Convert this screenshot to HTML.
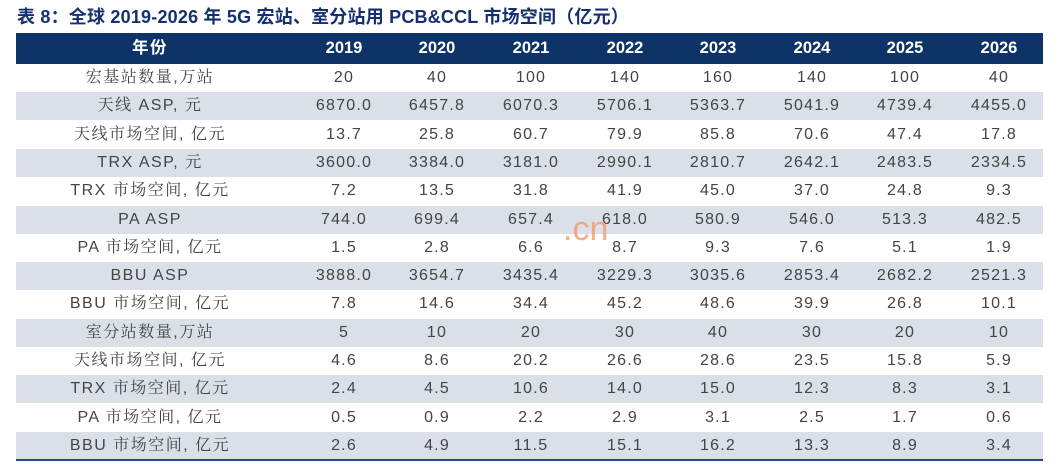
<!DOCTYPE html>
<html><head><meta charset="utf-8"><style>
body{margin:0;width:1060px;height:464px;background:#fff;position:relative;overflow:hidden;font-family:"Liberation Sans","Noto Sans CJK SC",sans-serif;}
.title{position:absolute;left:17px;top:3px;font-size:18px;font-weight:bold;color:#14306e;white-space:nowrap;letter-spacing:0.2px}
.row{position:absolute;left:16px;width:1027px;height:28px;}
.row div{position:absolute;top:0;height:28px;line-height:28px;text-align:center;font-size:16px;color:#444;}
.hdr{top:33px;height:31px;background:#0e3467;}
.hdr div{color:#fff;font-weight:bold;height:31px;line-height:31px;font-size:16.5px}
.sh{background:#dbe0e8;}
.num{letter-spacing:1.2px}
.lab{font-family:"Liberation Sans","Noto Serif CJK SC",serif;}
.line{position:absolute;left:16px;width:1027px;top:459px;height:2px;background:#1f4a86}
</style></head><body>
<div class="title">表 8：全球 2019-2026 年 5G 宏站、室分站用 PCB&amp;CCL 市场空间（亿元）</div>
<div id="t"></div>
<div style="position:absolute;left:563px;top:210px;font-size:34px;color:#f0a070;opacity:0.85;font-family:'Liberation Sans',sans-serif">.cn</div>
<div class="line"></div>
<script>
var rows=[
["宏基站数量,万站","20","40","100","140","160","140","100","40"],
["天线 ASP, 元","6870.0","6457.8","6070.3","5706.1","5363.7","5041.9","4739.4","4455.0"],
["天线市场空间, 亿元","13.7","25.8","60.7","79.9","85.8","70.6","47.4","17.8"],
["TRX ASP, 元","3600.0","3384.0","3181.0","2990.1","2810.7","2642.1","2483.5","2334.5"],
["TRX 市场空间, 亿元","7.2","13.5","31.8","41.9","45.0","37.0","24.8","9.3"],
["PA ASP","744.0","699.4","657.4","618.0","580.9","546.0","513.3","482.5"],
["PA 市场空间, 亿元","1.5","2.8","6.6","8.7","9.3","7.6","5.1","1.9"],
["BBU ASP","3888.0","3654.7","3435.4","3229.3","3035.6","2853.4","2682.2","2521.3"],
["BBU 市场空间, 亿元","7.8","14.6","34.4","45.2","48.6","39.9","26.8","10.1"],
["室分站数量,万站","5","10","20","30","40","30","20","10"],
["天线市场空间, 亿元","4.6","8.6","20.2","26.6","28.6","23.5","15.8","5.9"],
["TRX 市场空间, 亿元","2.4","4.5","10.6","14.0","15.0","12.3","8.3","3.1"],
["PA 市场空间, 亿元","0.5","0.9","2.2","2.9","3.1","2.5","1.7","0.6"],
["BBU 市场空间, 亿元","2.6","4.9","11.5","15.1","16.2","13.3","8.9","3.4"]];
var centers=[344,437,531,625,718,812,905,999];
function mk(cells,cls,top){
 var hd=cls.indexOf('hdr')>=0;
 var r='<div class="row '+cls+'" style="top:'+top+'px">';
 r+='<div class="'+(hd?'':'lab')+'" style="left:0;width:268px;letter-spacing:1.5px">'+cells[0]+'</div>';
 for(var i=1;i<9;i++){r+='<div class="'+(hd?'':'num')+'" style="left:'+(centers[i-1]-16-50)+'px;width:100px">'+cells[i]+'</div>';}
 return r+'</div>';
}
var h=mk(["年份","2019","2020","2021","2022","2023","2024","2025","2026"],"hdr",33);
for(var k=0;k<rows.length;k++){h+=mk(rows[k],k%2?"sh":"",64+k*28.3);}
document.getElementById('t').innerHTML=h;
</script>
</body></html>
